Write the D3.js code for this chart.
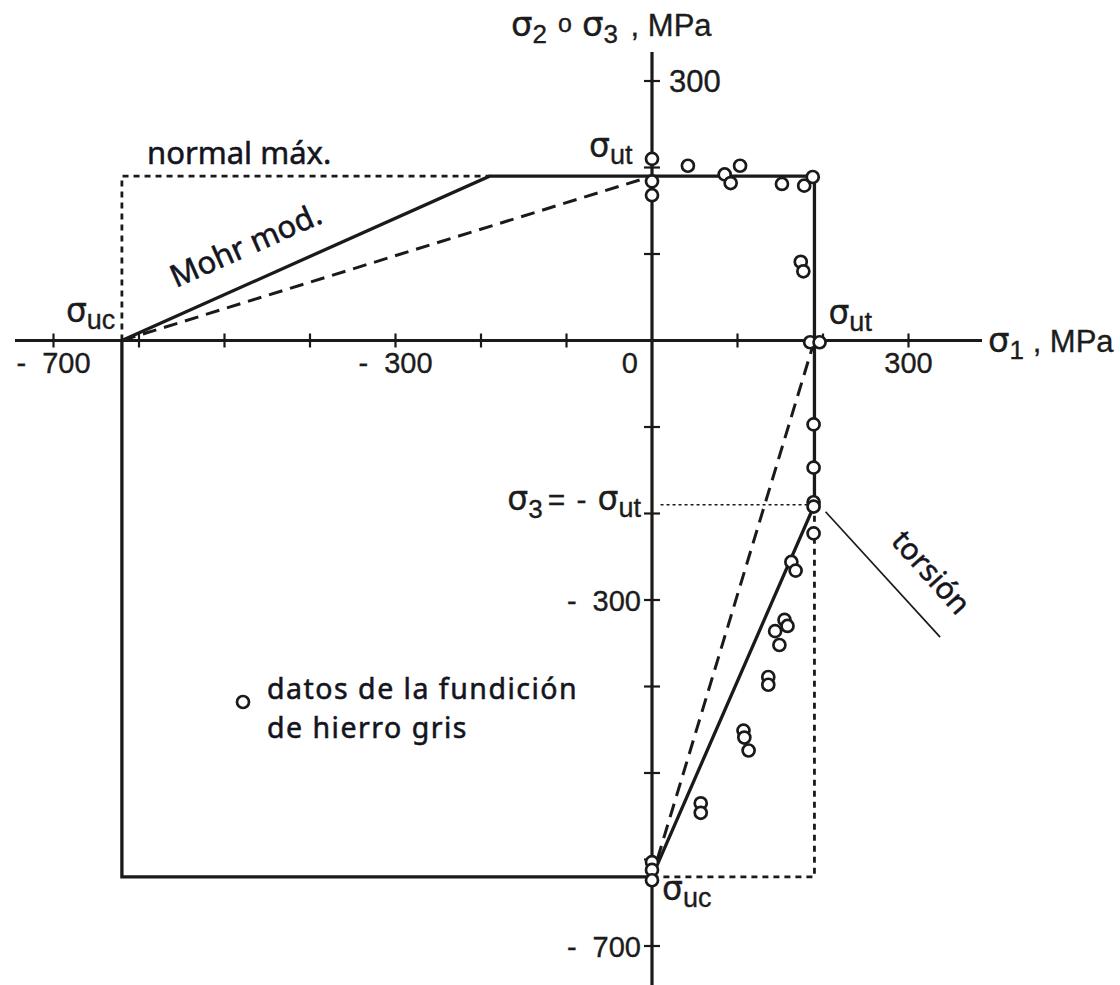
<!DOCTYPE html>
<html>
<head>
<meta charset="utf-8">
<script src="https://cdn.jsdelivr.net/npm/d3@7/dist/d3.min.js"></script>
<style>
  html, body { margin: 0; padding: 0; background: #fff; }
  svg { display: block; }
  .ax { font-family: "Liberation Sans", Arial, sans-serif; fill: #1c1c1c; stroke: #1c1c1c; stroke-width: 0.35; }
  .sg { font-family: "DejaVu Sans", sans-serif; }
  .hum { font-family: "Noto Sans", "Open Sans", sans-serif; fill: #14141e; stroke: #14141e; stroke-width: 0.55; }
</style>
</head>
<body>
<svg id="chart" width="1120" height="985"></svg>
<script>
// Strengths of the gray cast iron (MPa)
const sigmaUt = 190;
const sigmaUc = -620;

// Axis ticks and labels
const xTicks = [-700, -600, -500, -400, -300, -200, -100, 100, 200, 300];
const yTicks = [300, 200, 100, -100, -200, -300, -400, -500, -600, -700];
const xLabelValues = [-700, -300, 0, 300];
const xLabelTexts = ["700", "300", "0", "300"];
const yLabelValues = [300, -300, -700];
const yLabelTexts = ["300", "300", "700"];

// Test data: principal stresses at fracture (sigma1, sigma2 or sigma3)
const dataS1 = [0, 0, 0, 42, 85, 92, 103, 152, 178, 188, 174, 177, 185, 196,
                189, 189, 189, 189, 189, 163, 168, 155, 158.5, 144, 149, 136, 136,
                107, 108, 113, 57, 57, 0, 0, 0];
const dataS2 = [210, 184, 168, 202, 192, 182, 202, 181, 179, 189, 91, 80, -2, -2,
                -97, -147, -187, -192, -223, -256, -266, -323, -330, -336, -352, -389, -398,
                -451, -459, -474, -535, -546, -603, -612, -624];

// Failure envelopes
const mohrModPts = [[sigmaUc, 0], [-sigmaUt, sigmaUt], [sigmaUt, sigmaUt], [sigmaUt, -sigmaUt],
                    [0, sigmaUc], [sigmaUc, sigmaUc], [sigmaUc, 0]];
const coulombPtsA = [[sigmaUc, 0], [0, sigmaUt]];
const coulombPtsB = [[sigmaUt, 0], [0, sigmaUc]];
const normalMaxA = [[sigmaUc, 0], [sigmaUc, sigmaUt], [-sigmaUt, sigmaUt]];
const normalMaxB = [[sigmaUt, -sigmaUt], [sigmaUt, sigmaUc], [0, sigmaUc]];
const torsionLeader = [[203, -198], [337, -343]];
const tensionLeader = [[10, -sigmaUt], [sigmaUt, -sigmaUt]];

const svg = d3.select("#chart");
const x = d3.scaleLinear().domain([-700, 300]).range([53.5, 908.5]);
const y = d3.scaleLinear().domain([-700, 300]).range([946, 81]);
const line = d3.line().x(d => x(d[0])).y(d => y(d[1]));
const ink = "#1a1a1a";

// Axes
const x0 = x(0), y0 = y(0);
svg.append("line").attr("x1", 15).attr("x2", 982).attr("y1", y0).attr("y2", y0)
  .attr("stroke", ink).attr("stroke-width", 3.2);
svg.append("line").attr("x1", x0).attr("x2", x0).attr("y1", 52).attr("y2", 985)
  .attr("stroke", ink).attr("stroke-width", 3.2);

svg.append("g").selectAll("line").data(xTicks).join("line")
  .attr("x1", d => x(d)).attr("x2", d => x(d))
  .attr("y1", y0 - 7).attr("y2", y0 + 7)
  .attr("stroke", ink).attr("stroke-width", 2.2);
svg.append("g").selectAll("line").data(yTicks).join("line")
  .attr("x1", x0 - 8).attr("x2", x0 + 8)
  .attr("y1", d => y(d)).attr("y2", d => y(d))
  .attr("stroke", ink).attr("stroke-width", 2.2);

// Tick labels (negative values carry a spaced minus sign)
function tickLabel(sel, v, txt) {
  if (v < 0) {
    sel.append("tspan").text("-");
    sel.append("tspan").attr("dx", 16).text(txt);
  } else {
    sel.append("tspan").text(txt);
  }
}
svg.append("g").selectAll("text").data(xLabelValues).join("text")
  .attr("class", "ax")
  .attr("x", d => d === 0 ? x(d) - 14 : x(d))
  .attr("y", y0 + 32)
  .attr("text-anchor", d => d === 0 ? "end" : "middle")
  .attr("font-size", 29)
  .each(function (d, i) { tickLabel(d3.select(this), d, xLabelTexts[i]); });
svg.append("g").selectAll("text").data(yLabelValues).join("text")
  .attr("class", "ax")
  .attr("x", d => d > 0 ? x0 + 17 : x0 - 11)
  .attr("y", d => y(d) + 11)
  .attr("text-anchor", d => d > 0 ? "start" : "end")
  .attr("font-size", d => d > 0 ? 31 : 29)
  .each(function (d, i) { tickLabel(d3.select(this), d, yLabelTexts[i]); });

// Envelope lines
svg.append("path").attr("d", line(normalMaxA)).attr("fill", "none")
  .attr("stroke", ink).attr("stroke-width", 2.8).attr("stroke-dasharray", "6,5");
svg.append("path").attr("d", line(normalMaxB)).attr("fill", "none")
  .attr("stroke", ink).attr("stroke-width", 2.8).attr("stroke-dasharray", "6,5");
svg.append("path").attr("d", line(tensionLeader)).attr("fill", "none")
  .attr("stroke", ink).attr("stroke-width", 1.5).attr("stroke-dasharray", "3,3");
svg.append("path").attr("d", line(coulombPtsA)).attr("fill", "none")
  .attr("stroke", ink).attr("stroke-width", 3).attr("stroke-dasharray", "14,8");
svg.append("path").attr("d", line(coulombPtsB)).attr("fill", "none")
  .attr("stroke", ink).attr("stroke-width", 3).attr("stroke-dasharray", "14,8");
svg.append("path").attr("d", line(mohrModPts)).attr("fill", "none")
  .attr("stroke", ink).attr("stroke-width", 3.3).attr("stroke-linejoin", "miter");
svg.append("path").attr("d", line(torsionLeader)).attr("fill", "none")
  .attr("stroke", ink).attr("stroke-width", 1.7);

// Test points
svg.append("g").selectAll("circle").data(dataS1).join("circle")
  .attr("cx", d => x(d)).attr("cy", (d, i) => y(dataS2[i]))
  .attr("r", 6).attr("fill", "#fff").attr("stroke", ink).attr("stroke-width", 2.7);

// Axis titles
const t1 = svg.append("text").attr("class", "ax").attr("x", 988).attr("y", 352).attr("font-size", 31);
t1.append("tspan").attr("class", "sg").attr("font-size", 34).text("σ");
t1.append("tspan").attr("font-size", 26).attr("dy", 7).text("1");
t1.append("tspan").attr("dy", -7).text(" , MPa");

const t2 = svg.append("text").attr("class", "ax").attr("x", 511).attr("y", 36).attr("font-size", 31);
t2.append("tspan").attr("class", "sg").attr("font-size", 34).text("σ");
t2.append("tspan").attr("font-size", 26).attr("dy", 7).text("2");
t2.append("tspan").attr("font-size", 25).attr("dx", 11).attr("dy", -11).text("o");
t2.append("tspan").attr("class", "sg").attr("font-size", 34).attr("dx", 10).attr("dy", 4).text("σ");
t2.append("tspan").attr("font-size", 26).attr("dy", 7).text("3");
t2.append("tspan").attr("dx", 4).attr("dy", -7).text(" , MPa");

// Strength markers
function sigmaLabel(px, py, sub, anchor) {
  const t = svg.append("text").attr("class", "ax").attr("x", px).attr("y", py)
    .attr("font-size", 31).attr("text-anchor", anchor || "start");
  t.append("tspan").attr("class", "sg").attr("font-size", 33).text("σ");
  t.append("tspan").attr("font-size", 27).attr("dy", 7).text(sub);
  return t;
}
sigmaLabel(x(0) - 63, y(sigmaUt) - 19, "ut");
sigmaLabel(x(sigmaUt) + 14, y0 - 17, "ut");
sigmaLabel(x(sigmaUc) - 56, y0 - 19, "uc");
sigmaLabel(x(0) + 10, y(sigmaUc) + 23, "uc");

const t3 = svg.append("text").attr("class", "ax").attr("x", x0 - 11).attr("y", y(-sigmaUt) + 5)
  .attr("font-size", 30).attr("text-anchor", "end");
t3.append("tspan").attr("class", "sg").attr("font-size", 33).text("σ");
t3.append("tspan").attr("font-size", 26).attr("dy", 8).text("3");
t3.append("tspan").attr("dx", 5).attr("dy", -8).text("= ");
t3.append("tspan").attr("dx", 3).text("-");
t3.append("tspan").attr("class", "sg").attr("font-size", 33).attr("dx", 11).text("σ");
t3.append("tspan").attr("font-size", 27).attr("dy", 7).text("ut");

// Criterion names
svg.append("text").attr("class", "hum").attr("x", 147).attr("y", 164)
  .attr("font-size", 31).text("normal máx.");
svg.append("text").attr("class", "hum")
  .attr("transform", `translate(176,288) rotate(-24)`)
  .attr("font-size", 31).text("Mohr mod.");
svg.append("text").attr("class", "hum")
  .attr("transform", `translate(890,542) rotate(48)`)
  .attr("font-size", 30).text("torsión");

// Legend
svg.append("circle").attr("cx", 243).attr("cy", 702).attr("r", 6)
  .attr("fill", "#fff").attr("stroke", ink).attr("stroke-width", 2.7);
svg.append("text").attr("class", "hum").attr("x", 267).attr("y", 699)
  .attr("font-size", 28.5).attr("letter-spacing", 1.5).text("datos de la fundición");
svg.append("text").attr("class", "hum").attr("x", 267).attr("y", 738)
  .attr("font-size", 28.5).attr("letter-spacing", 1.5).text("de hierro gris");
</script>
</body>
</html>
